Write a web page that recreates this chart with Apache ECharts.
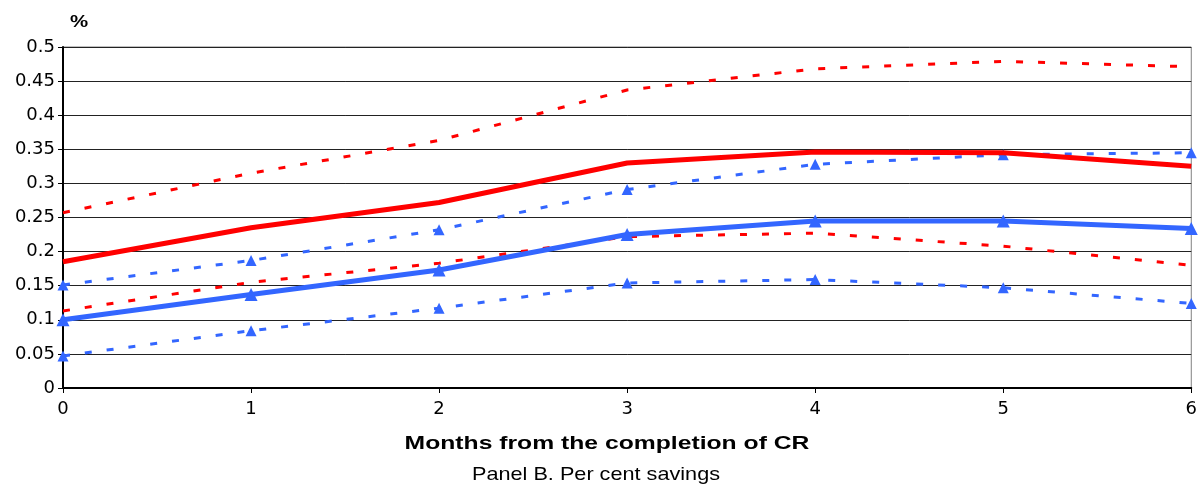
<!DOCTYPE html>
<html>
<head>
<meta charset="utf-8">
<script src="https://cdn.jsdelivr.net/npm/echarts@6/dist/echarts.min.js"></script>
<style>
html,body{margin:0;padding:0;background:#fff;}
#chart{width:1200px;height:487px;}
</style>
</head>
<body>
<div id="chart"></div>
<script>
const months = [0, 1, 2, 3, 4, 5, 6];
const yTicks = [0, 0.05, 0.1, 0.15, 0.2, 0.25, 0.3, 0.35, 0.4, 0.45, 0.5];
const redMain  = [0.185, 0.235, 0.272, 0.330, 0.346, 0.345, 0.325];
const redUpper = [0.257, 0.315, 0.363, 0.437, 0.468, 0.479, 0.471];
const redLower = [0.113, 0.155, 0.183, 0.222, 0.227, 0.208, 0.180];
const blueMain  = [0.100, 0.137, 0.173, 0.225, 0.245, 0.245, 0.234];
const blueUpper = [0.151, 0.187, 0.232, 0.291, 0.328, 0.342, 0.345];
const blueLower = [0.047, 0.084, 0.117, 0.154, 0.159, 0.147, 0.124];
const xTitle = 'Months from the completion of CR';
const panelTitle = 'Panel B. Per cent savings';
const yUnit = '%';

const RED = '#FF0000', BLUE = '#3366FF';
const FONT = '"Liberation Sans", Arial, sans-serif';
const TICKFONT = '"DejaVu Sans", sans-serif';

function pts(arr){ return months.map((m,i)=>[m, arr[i]]); }
function series(name, arr, color, width, dashed, marker, msize){
  return {
    name, type:'line', data: pts(arr), z: dashed ? 3 : 4,
    lineStyle:{color, width, type: dashed ? [7,15] : 'solid', cap:'butt'},
    itemStyle:{color},
    symbol: marker ? 'triangle' : 'none',
    symbolSize: msize || 0,
    showSymbol: !!marker,
    animation:false, silent:true
  };
}

const chart = echarts.init(document.getElementById('chart'), null, {renderer:'canvas'});
chart.setOption({
  animation:false,
  backgroundColor:'#fff',
  grid:{left:63, right:7, top:47, bottom:99, show:true, borderColor:'#808080', borderWidth:1, backgroundColor:'transparent'},
  xAxis:{
    type:'value', min:0, max:6, interval:1,
    axisLine:{show:true, lineStyle:{color:'#000', width:2}},
    axisTick:{show:true, length:5, lineStyle:{color:'#000'}},
    axisLabel:{fontFamily:TICKFONT, fontSize:18, color:'#000', margin:12,
      formatter:(v)=> months.includes(v) ? String(v) : ''},
    splitLine:{show:false}
  },
  yAxis:{
    type:'value', min:0, max:0.5, interval:0.05,
    axisLine:{show:true, lineStyle:{color:'#000', width:2}},
    axisTick:{show:true, length:5, lineStyle:{color:'#000'}},
    axisLabel:{fontFamily:TICKFONT, fontSize:18, color:'#000', margin:8,
      formatter:(v)=>{ const t = yTicks.find(x=>Math.abs(x-v)<1e-9); return t===undefined ? '' : String(t); }},
    splitLine:{show:true, lineStyle:{color:'#222', width:1}}
  },
  graphic:[
    {type:'text', x:70, y:22, scaleX:1.2, style:{text:yUnit, font:'bold 17px '+FONT, fill:'#000', verticalAlign:'middle'}},
    {type:'text', x:607, y:444, scaleX:1.3, style:{text:xTitle, font:'bold 19px '+FONT, fill:'#000', align:'center', verticalAlign:'middle'}},
    {type:'text', x:596, y:475, scaleX:1.14, style:{text:panelTitle, font:'19px '+FONT, fill:'#000', align:'center', verticalAlign:'middle'}}
  ],
  series:[
    series('redUpper', redUpper, RED, 3, true, false),
    series('redLower', redLower, RED, 3, true, false),
    series('blueUpper', blueUpper, BLUE, 3, true, true, 11),
    series('blueLower', blueLower, BLUE, 3, true, true, 11),
    series('redMain', redMain, RED, 5, false, false),
    series('blueMain', blueMain, BLUE, 5, false, true, 13)
  ]
});
</script>
</body>
</html>
